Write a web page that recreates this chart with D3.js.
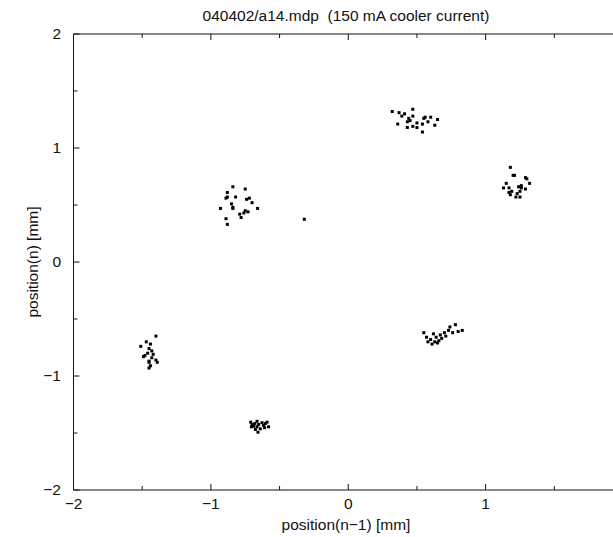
<!DOCTYPE html>
<html>
<head>
	<title></title>
	<script src="https://d3js.org/d3.v7.min.js" charset="utf-8"></script>
	<style>
	body {margin: 0; background-color: #fff;}
	text {font-family: "Liberation Sans", Arial, sans-serif; font-size: 15.5px; fill: #111;}
	</style>
</head>
<body>
	<script>

		var title = "040402/a14.mdp\u00a0\u00a0(150 mA cooler current)";
		var xLabel = "position(n\u22121) [mm]";
		var yLabel = "position(n) [mm]";
		var majorTicks = [-2, -1, 0, 1];
		var yMajorTicks = [-2, -1, 0, 1, 2];
		var minorTicks = [-1.5, -0.5, 0.5, 1.5];

		// return map clusters, [position(n-1), position(n)]
		var clusterTop = [[0.32,1.32],[0.37,1.31],[0.41,1.30],[0.47,1.34],[0.47,1.28],[0.44,1.26],[0.43,1.23],
			[0.36,1.21],[0.43,1.18],[0.47,1.19],[0.50,1.18],[0.54,1.21],[0.55,1.26],[0.56,1.27],[0.60,1.27],
			[0.65,1.25],[0.63,1.20],[0.54,1.14],[0.45,1.24],[0.50,1.22],[0.58,1.23],[0.39,1.28]];
		var clusterRight = [[1.18,0.83],[1.20,0.76],[1.21,0.76],[1.29,0.74],[1.30,0.73],[1.32,0.69],[1.15,0.69],
			[1.13,0.65],[1.17,0.65],[1.19,0.62],[1.17,0.61],[1.18,0.59],[1.22,0.57],[1.25,0.57],[1.25,0.62],
			[1.24,0.66],[1.26,0.67],[1.26,0.65],[1.23,0.60],[1.29,0.64]];
		var clusterLeftMid = [[-0.84,0.66],[-0.75,0.64],[-0.88,0.61],[-0.89,0.56],[-0.88,0.57],[-0.82,0.57],
			[-0.85,0.51],[-0.84,0.48],[-0.84,0.47],[-0.93,0.47],[-0.74,0.55],[-0.72,0.56],[-0.70,0.52],
			[-0.66,0.47],[-0.75,0.45],[-0.73,0.44],[-0.76,0.43],[-0.79,0.42],[-0.78,0.39],[-0.89,0.38],[-0.88,0.33]];
		var stray = [[-0.32,0.375]];
		var clusterLeftLow = [[-1.40,-0.65],[-1.44,-0.72],[-1.45,-0.76],[-1.51,-0.74],[-1.46,-0.80],[-1.42,-0.81],
			[-1.43,-0.84],[-1.48,-0.82],[-1.49,-0.83],[-1.45,-0.87],[-1.40,-0.86],[-1.39,-0.88],[-1.45,-0.88],
			[-1.44,-0.91],[-1.45,-0.93],[-1.43,-0.78],[-1.47,-0.70]];
		var clusterBottom = [[-0.71,-1.405],[-0.70,-1.425],[-0.705,-1.446],[-0.68,-1.417],[-0.664,-1.397],
			[-0.652,-1.425],[-0.664,-1.446],[-0.676,-1.469],[-0.628,-1.41],[-0.616,-1.434],[-0.604,-1.417],
			[-0.591,-1.405],[-0.609,-1.454],[-0.64,-1.463],[-0.657,-1.493],[-0.58,-1.446],[-0.689,-1.44]];
		var clusterRightLow = [[0.55,-0.62],[0.57,-0.66],[0.58,-0.70],[0.60,-0.68],[0.61,-0.72],[0.63,-0.70],
			[0.64,-0.66],[0.66,-0.69],[0.67,-0.64],[0.68,-0.67],[0.70,-0.62],[0.71,-0.65],[0.73,-0.60],
			[0.74,-0.57],[0.76,-0.62],[0.78,-0.55],[0.80,-0.61],[0.83,-0.60],[0.62,-0.63],[0.65,-0.71]];

		var points = [].concat(clusterTop, clusterRight, clusterLeftMid, stray,
			clusterLeftLow, clusterBottom, clusterRightLow);

		var width = 613;
		var height = 537;

		var svg = d3.select("body")
		.append("svg")
		.attr("width", width)
		.attr("height", height);

		// plot runs off the right edge like the original
		var x = d3.scaleLinear().domain([-2, 2]).range([73.5, 623]);
		var y = d3.scaleLinear().domain([-2, 2]).range([490, 34]);

		var frame = svg.append("g").attr("stroke", "#111").attr("stroke-width", 1).attr("fill", "none");
		frame.append("path")
		.attr("d", "M" + width + "," + y(2) + "H" + x(-2) + "V" + y(-2) + "H" + width);

		// inward ticks, top and bottom
		var xt = majorTicks.map(function(v){ return {v: v, len: 6}; })
			.concat(minorTicks.map(function(v){ return {v: v, len: 4}; }));
		frame.selectAll(".xb").data(xt).enter().append("line")
		.attr("x1", function(d){ return x(d.v); }).attr("x2", function(d){ return x(d.v); })
		.attr("y1", y(-2)).attr("y2", function(d){ return y(-2) - d.len; });
		frame.selectAll(".xtop").data(xt).enter().append("line")
		.attr("x1", function(d){ return x(d.v); }).attr("x2", function(d){ return x(d.v); })
		.attr("y1", y(2)).attr("y2", function(d){ return y(2) + d.len; });

		var yt = yMajorTicks.map(function(v){ return {v: v, len: 6}; })
			.concat(minorTicks.map(function(v){ return {v: v, len: 4}; }));
		frame.selectAll(".yl").data(yt).enter().append("line")
		.attr("y1", function(d){ return y(d.v); }).attr("y2", function(d){ return y(d.v); })
		.attr("x1", x(-2)).attr("x2", function(d){ return x(-2) + d.len; });

		var fmt = function(v){ return v < 0 ? "\u2212" + Math.abs(v) : "" + v; };

		svg.selectAll(".xlab").data(majorTicks).enter().append("text")
		.attr("x", function(d){ return x(d); })
		.attr("y", 509)
		.attr("text-anchor", "middle")
		.text(fmt);

		svg.selectAll(".ylab").data(yMajorTicks).enter().append("text")
		.attr("x", 61)
		.attr("y", function(d){ return y(d) + 5; })
		.attr("text-anchor", "end")
		.text(fmt);

		svg.append("text")
		.attr("x", 346).attr("y", 21)
		.attr("text-anchor", "middle")
		.text(title);

		svg.append("text")
		.attr("x", 346).attr("y", 530)
		.attr("text-anchor", "middle")
		.text(xLabel);

		svg.append("text")
		.attr("transform", "translate(38," + 262 + ") rotate(-90)")
		.attr("text-anchor", "middle")
		.text(yLabel);

		svg.append("g").selectAll("rect")
		.data(points)
		.enter()
		.append("rect")
		.attr("x", function(d){ return x(d[0]) - 1.5; })
		.attr("y", function(d){ return y(d[1]) - 1.5; })
		.attr("width", 3)
		.attr("height", 3)
		.attr("fill", "#000");

	</script>
</body>
</html>
